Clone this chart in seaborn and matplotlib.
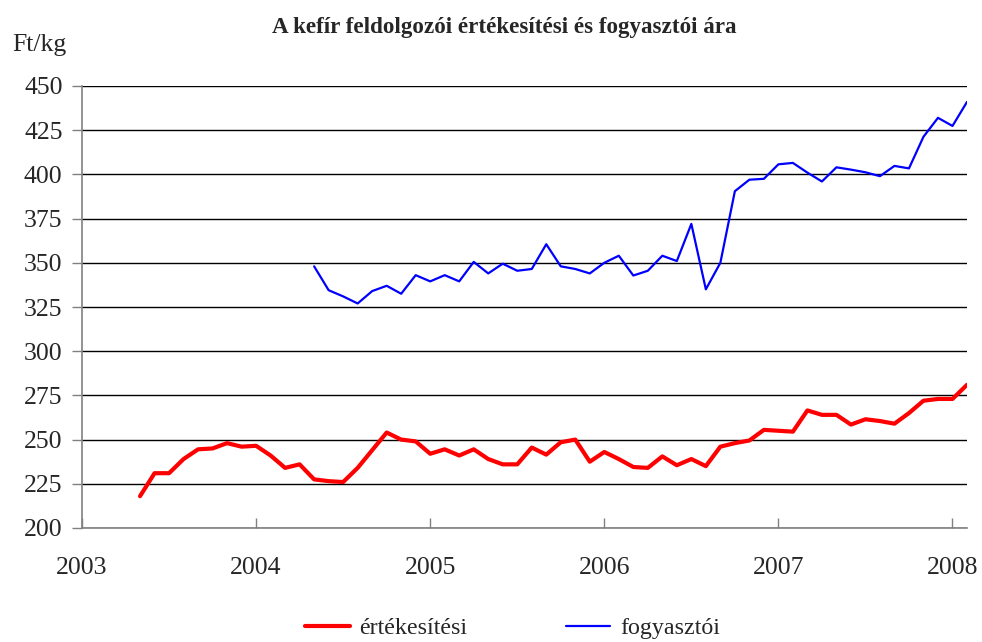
import numpy as np
import pandas as pd
import matplotlib.pyplot as plt
import seaborn as sns
from matplotlib.lines import Line2D

# monthly prices, Ft/kg (month index 0 = Jan 2003)
ert_start = 4   # May 2003
ertekesitesi = [218, 231, 231, 239, 244.5, 245, 248, 246,
                246.5, 241, 234, 236, 227.5, 226.5, 226, 234, 244, 254, 250, 249,
                242, 244.5, 241, 244.5, 239, 236, 236, 245.5, 241.5, 248.5, 250, 237.5,
                243, 239, 234.5, 234, 240.5, 235.5, 239, 235, 246, 248, 249.5, 255.5,
                255, 254.5, 266.5, 264, 264, 258.5, 261.5, 260.5, 259, 265, 272, 273,
                273, 281]

fogy_start = 16  # May 2004
fogyasztoi = [348, 334.5, 331, 327, 334, 337, 332.5, 343,
              339.5, 343, 339.5, 350.5, 344, 349.5, 345.5, 346.5, 360.5, 348, 346.5, 344,
              350, 354, 342.8, 345.5, 354, 351, 372, 335, 350, 390.5, 397, 397.5,
              405.7, 406.5, 401, 396, 404, 402.7, 401.2, 399, 404.8, 403.4, 421.3, 432,
              427.4, 441]

series_names = ["értékesítési", "fogyasztói"]
series_colors = ["#ff0000", "#0000ff"]
series_widths = [3.0, 1.6]

frames = []
for name, start, vals in [(series_names[0], ert_start, ertekesitesi),
                          (series_names[1], fogy_start, fogyasztoi)]:
    idx = np.arange(start, start + len(vals))
    frames.append(pd.DataFrame({"ev": 2003 + idx / 12, "ar": vals, "sorozat": name}))
df = pd.concat(frames, ignore_index=True)

sns.set_style("white")
plt.rcParams["font.family"] = ["Liberation Serif", "DejaVu Serif"]

fig, ax = plt.subplots(figsize=(9.82, 6.42), dpi=100)
fig.subplots_adjust(left=82 / 982, right=967 / 982, top=1 - 86 / 642, bottom=1 - 528 / 642)

sns.lineplot(data=df, x="ev", y="ar", hue="sorozat", palette=series_colors,
             hue_order=series_names, ax=ax, legend=False)
for line, w in zip(ax.lines, series_widths):
    line.set_linewidth(w)

ax.set_xlim(2003, 2008 + 1 / 12)
ax.set_ylim(200, 450)
ax.set_yticks(range(200, 451, 25))
ax.set_xticks(range(2003, 2009))
ax.yaxis.grid(True, color="black", linewidth=1)
ax.set_axisbelow(True)
ax.set_xlabel("")
ax.set_ylabel("")

for s in ["top", "right"]:
    ax.spines[s].set_visible(False)
for s in ["left", "bottom"]:
    ax.spines[s].set_color("#808080")
    ax.spines[s].set_linewidth(1.2)

ax.tick_params(axis="y", direction="out", length=7, width=1, color="#808080",
               labelsize=18.5, pad=7, left=True)
ax.tick_params(axis="x", direction="in", length=7, width=1, color="#808080",
               labelsize=18.5, pad=21, bottom=True)

fig.text(0.514, 1 - 28 / 642, "A kefír feldolgozói értékesítési és fogyasztói ára",
         ha="center", va="center", fontsize=16.6, fontweight="bold")
fig.text(12 / 982, 1 - 45 / 642, "Ft/kg", ha="left", va="center", fontsize=18.5)

handles = [Line2D([], [], color=c, linewidth=w) for c, w in zip(series_colors, series_widths)]
fig.legend(handles, series_names, loc="center", bbox_to_anchor=(0.522, 1 - 628 / 642),
           ncol=2, frameon=False, fontsize=17.3, handlelength=1.85, handletextpad=0.4,
           columnspacing=4.1)

fig.savefig("out.png", dpi=100)
